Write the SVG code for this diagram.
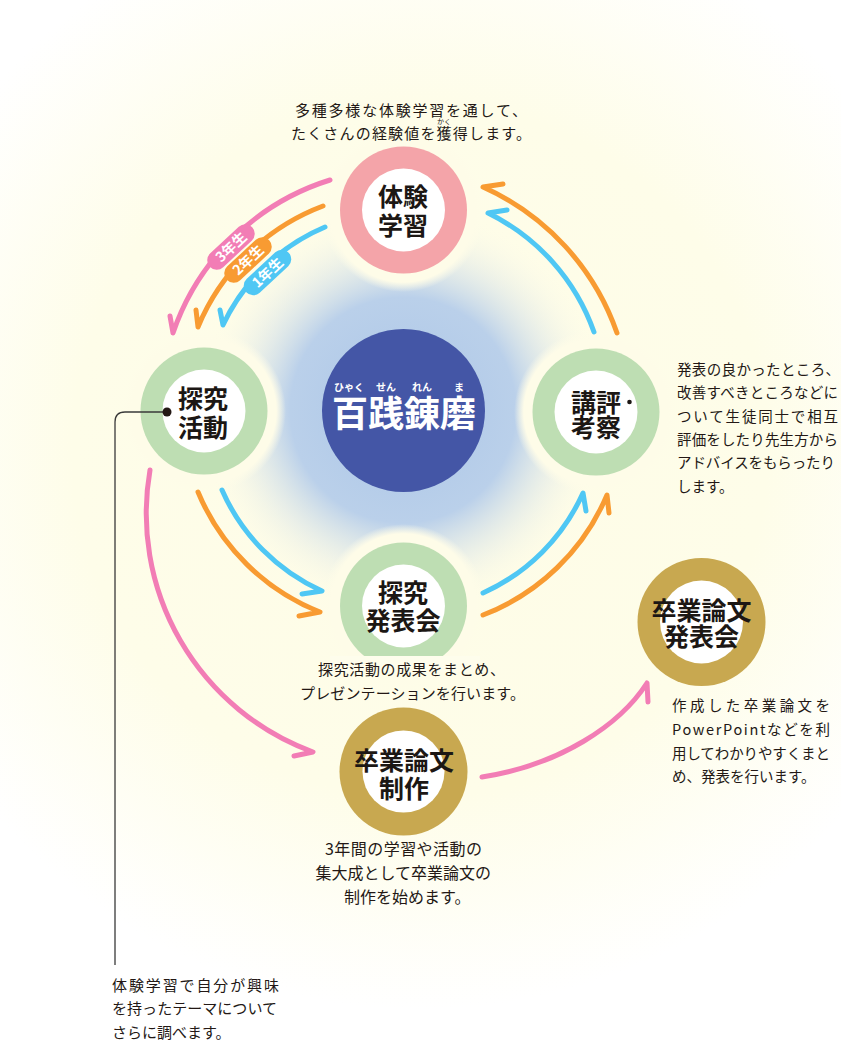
<svg xmlns="http://www.w3.org/2000/svg" width="841" height="1042" viewBox="0 0 841 1042">
<defs>
<radialGradient id="bgGrad" gradientUnits="userSpaceOnUse" cx="420" cy="450" r="560">
<stop offset="0" stop-color="#FEFCE6"/>
<stop offset="0.62" stop-color="#FEFDE9"/>
<stop offset="1" stop-color="#FFFFFF"/>
</radialGradient>
<radialGradient id="blueGlow" gradientUnits="userSpaceOnUse" cx="403" cy="410" r="205">
<stop offset="0" stop-color="#ACC6E7" stop-opacity="1"/>
<stop offset="0.55" stop-color="#BAD0EA" stop-opacity="1"/>
<stop offset="1" stop-color="#FEFCE7" stop-opacity="0"/>
</radialGradient>
<radialGradient id="halo">
<stop offset="0" stop-color="#FEFCE8"/>
<stop offset="0.88" stop-color="#FEFCE8"/>
<stop offset="1" stop-color="#FEFCE8" stop-opacity="0"/>
</radialGradient>
<style>
.arc{fill:none;stroke-width:5;stroke-linecap:round;stroke-linejoin:round}
.pink{stroke:#F27DB5}
.orange{stroke:#F89B32}
.blue{stroke:#4FC7F4}
.lbl{font-family:"Noto Sans CJK JP","Noto Sans",sans-serif;font-weight:700;font-size:25px;fill:#1C1714;text-anchor:middle}
.body{font-family:"Noto Sans CJK JP","Noto Sans",sans-serif;font-size:15px;fill:#231815}
.pill{font-family:"Noto Sans CJK JP","Noto Sans",sans-serif;font-weight:700;font-size:14px;fill:#FFFFFF;text-anchor:middle}
.ruby{font-family:"Noto Sans CJK JP","Noto Sans",sans-serif;font-weight:700;font-size:10px;fill:#FFFFFF;text-anchor:middle}
.halo{fill:url(#halo)}
.white{fill:#FFFFFF}
</style>
</defs>

<rect x="0" y="0" width="841" height="1042" fill="url(#bgGrad)"/>
<circle cx="403" cy="410" r="205" fill="url(#blueGlow)"/>

<g id="halos">
<circle class="halo" cx="403" cy="210" r="82"/>
<circle class="halo" cx="204" cy="411" r="82"/>
<circle class="halo" cx="596" cy="412" r="82"/>
<circle class="halo" cx="403.5" cy="606" r="82"/>
</g>

<g id="node-center">
<circle cx="403.5" cy="410.5" r="81.5" fill="#4456A6"/>
<text class="ruby" x="349" y="391">ひゃく</text>
<text class="ruby" x="386" y="391">せん</text>
<text class="ruby" x="422" y="391">れん</text>
<text class="ruby" x="459" y="391">ま</text>
<text x="404" y="427" font-family="'Noto Sans CJK JP','Noto Sans',sans-serif" font-weight="700" font-size="36" fill="#FFFFFF" text-anchor="middle">百践錬磨</text>
</g>

<g id="node-taiken">
<circle cx="403.5" cy="210" r="63.5" fill="#F4A4A9"/>
<circle class="white" cx="403.5" cy="210" r="41.5"/>
<text class="lbl" x="403" y="205.5">体験</text>
<text class="lbl" x="403" y="234.5">学習</text>
</g>

<g id="node-tankyu">
<circle cx="204" cy="411" r="63.5" fill="#BEDEB3"/>
<circle class="white" cx="204" cy="411" r="41.5"/>
<text class="lbl" x="203" y="407.5">探究</text>
<text class="lbl" x="203" y="436.5">活動</text>
</g>

<g id="node-kouhyou">
<circle cx="596" cy="412" r="63.5" fill="#BEDEB3"/>
<circle class="white" cx="596" cy="412" r="41.5"/>
<text class="lbl" x="571" y="411.5" style="text-anchor:start">講評</text>
<circle cx="629.5" cy="402" r="2.3" fill="#1C1714"/>
<text class="lbl" x="596" y="436.5">考察</text>
</g>

<g id="node-happyou">
<circle cx="403.5" cy="606" r="63.5" fill="#BEDEB3"/>
<circle class="white" cx="403.5" cy="606" r="41.5"/>
<rect x="330" y="656" width="150" height="16" fill="#FEFDEC"/>
<text class="lbl" x="403" y="601.5">探究</text>
<text class="lbl" x="403" y="629.5">発表会</text>
</g>

<g id="node-sotsuron">
<circle cx="403.5" cy="771.5" r="64" fill="#C8A850"/>
<circle class="white" cx="403.5" cy="771.5" r="41"/>
<text class="lbl" x="404" y="769.5">卒業論文</text>
<text class="lbl" x="404" y="797.5">制作</text>
</g>

<g id="node-sotsuron-happyou">
<circle cx="701.5" cy="622" r="64" fill="#C8A850"/>
<circle class="white" cx="701.5" cy="622" r="41.5"/>
<text class="lbl" x="701.5" y="620">卒業論文</text>
<text class="lbl" x="701.5" y="646">発表会</text>
</g>

<g id="connectors">
<!-- top-left: 体験学習 -> 探究活動 -->
<path class="arc pink" d="M330,180 A242,242 0 0 0 173,333 L170,316"/>
<path class="arc orange" d="M323,206 A219,219 0 0 0 198,327 L196,310"/>
<path class="arc blue" d="M325,227 A198,198 0 0 0 223,325 L220,310"/>
<!-- bottom-left: 探究活動 -> 探究発表会 / 卒業論文制作 -->
<path class="arc orange" d="M198,492 A220,220 0 0 0 320,612 L299,616"/>
<path class="arc blue" d="M222,490 A198,198 0 0 0 322,591 L302,594"/>
<path class="arc pink" d="M150,470 A254,254 0 0 0 313,752 L294,756"/>
<!-- bottom-right: 探究発表会 -> 講評考察 -->
<path class="arc blue" d="M483,593 A199,199 0 0 0 583,493 L586,511"/>
<path class="arc orange" d="M483,615 A220,220 0 0 0 607,495 L609,513"/>
<!-- top-right: 講評考察 -> 体験学習 -->
<path class="arc orange" d="M617,333 A250,250 0 0 0 483,187 L503,184"/>
<path class="arc blue" d="M594,332 A210,210 0 0 0 488,213 L507,210"/>
<!-- 卒業論文制作 -> 卒業論文発表会 -->
<path class="arc pink" d="M482,777 C560,765 620,725 647,683 L648,702"/>
<!-- leader line -->
<path d="M167,412 L125,412 Q115,412 115,422 L115,965" fill="none" stroke="#3A3A3A" stroke-width="1.3"/>
<circle cx="167" cy="412" r="4.5" fill="#231815"/>
<!-- year pills -->
<g transform="translate(231,247) rotate(-43)">
<rect x="-29" y="-9.5" width="58" height="19" rx="9.5" fill="#F27DB5"/>
<text class="pill" x="0" y="5">3年生</text>
</g>
<g transform="translate(248,260) rotate(-43)">
<rect x="-29" y="-9.5" width="58" height="19" rx="9.5" fill="#F89B32"/>
<text class="pill" x="0" y="5">2年生</text>
</g>
<g transform="translate(267.5,272.5) rotate(-43)">
<rect x="-29" y="-9.5" width="58" height="19" rx="9.5" fill="#4FC7F4"/>
<text class="pill" x="0" y="5">1年生</text>
</g>
</g>

<g id="texts">
<text class="body" x="295" y="115.5" textLength="232" lengthAdjust="spacing">多種多様な体験学習を通して、</text>
<text class="body" x="291" y="138.7" textLength="240" lengthAdjust="spacing">たくさんの経験値を獲得します。</text>
<text class="body" x="444" y="123.5" style="font-size:7px;text-anchor:middle">かく</text>

<text class="body" x="677" y="374.5" style="font-size:14.5px" textLength="163" lengthAdjust="spacing">発表の良かったところ、</text>
<text class="body" x="677" y="398" style="font-size:14.5px" textLength="161" lengthAdjust="spacing">改善すべきところなどに</text>
<text class="body" x="677" y="421.5" style="font-size:14.5px" textLength="161" lengthAdjust="spacing">ついて生徒同士で相互</text>
<text class="body" x="677" y="444.5" style="font-size:14.5px" textLength="161" lengthAdjust="spacing">評価をしたり先生方から</text>
<text class="body" x="677" y="468" style="font-size:14.5px" textLength="158" lengthAdjust="spacing">アドバイスをもらったり</text>
<text class="body" x="677" y="491.5" style="font-size:14.5px">します。</text>

<text class="body" x="318" y="674.5" textLength="187" lengthAdjust="spacing">探究活動の成果をまとめ、</text>
<text class="body" x="300" y="698.5" textLength="225" lengthAdjust="spacing">プレゼンテーションを行います。</text>

<text class="body" x="672" y="710.5" style="font-size:14.5px" textLength="158" lengthAdjust="spacing">作成した卒業論文を</text>
<text class="body" x="672" y="734.5" style="font-size:14.5px" textLength="158" lengthAdjust="spacing">PowerPointなどを利</text>
<text class="body" x="672" y="758.5" style="font-size:14.5px" textLength="158" lengthAdjust="spacing">用してわかりやすくまと</text>
<text class="body" x="672" y="781.5" style="font-size:14.5px">め、発表を行います。</text>

<text class="body" x="325" y="855" style="font-size:16px" textLength="157" lengthAdjust="spacing">3年間の学習や活動の</text>
<text class="body" x="315.5" y="879" style="font-size:16px">集大成として卒業論文の</text>
<text class="body" x="344" y="903" style="font-size:16px">制作を始めます。</text>

<text class="body" x="112" y="990.5" textLength="167" lengthAdjust="spacing">体験学習で自分が興味</text>
<text class="body" x="112" y="1013.5" textLength="165" lengthAdjust="spacing">を持ったテーマについて</text>
<text class="body" x="112" y="1037.5">さらに調べます。</text>
</g>
</svg>
